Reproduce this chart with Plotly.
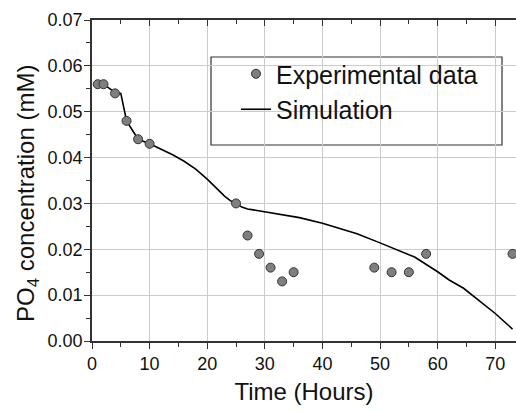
import plotly.graph_objects as go

# Experimental data
exp_time = [1, 2, 4, 6, 8, 10, 25, 27, 29, 31, 33, 35, 49, 52, 55, 58, 73]
exp_po4 = [0.056, 0.056, 0.054, 0.048, 0.044, 0.043, 0.030, 0.023, 0.019, 0.016,
           0.013, 0.015, 0.016, 0.015, 0.015, 0.019, 0.019]

# Simulation curve
sim_time = [0.5, 2, 4, 5, 6, 8, 10, 12, 14, 16, 18, 20, 21, 22, 23, 24, 25, 26, 27,
            28, 30, 33, 36, 40, 43, 46, 50, 53, 56, 60, 62, 64.5, 67, 70, 73]
sim_po4 = [0.056, 0.056, 0.0542, 0.054, 0.048, 0.044, 0.043, 0.0418, 0.0406, 0.0392,
           0.0375, 0.0353, 0.034, 0.0328, 0.0316, 0.0306, 0.030, 0.0292, 0.0288,
           0.0286, 0.0282, 0.0276, 0.0269, 0.0257, 0.0246, 0.0234, 0.0214, 0.0199,
           0.0183, 0.0151, 0.0133, 0.0115, 0.009, 0.006, 0.0026]

FONT = "Liberation Sans, Arial, sans-serif"
AX = "#333333"
FW, FH = 516, 412
X0, Y0, W, H = 92, 20, 424, 321

fig = go.Figure()
fig.add_trace(go.Scatter(
    x=sim_time, y=sim_po4, mode="lines", name="Simulation",
    line=dict(color="black", width=1.6), cliponaxis=False))
fig.add_trace(go.Scatter(
    x=exp_time, y=exp_po4, mode="markers", name="Experimental data",
    marker=dict(size=9, color="#7f7f7f", line=dict(color="#333333", width=1)),
    cliponaxis=False))
fig.add_trace(go.Scatter(x=[None], y=[None], xaxis="x2", showlegend=False))

xt = [0, 10, 20, 30, 40, 50, 60, 70]
xm = [5, 15, 25, 35, 45, 55, 65]

fig.update_layout(
    width=FW, height=FH,
    margin=dict(l=X0, r=FW - X0 - W, t=Y0, b=FH - Y0 - H, autoexpand=False),
    paper_bgcolor="white", plot_bgcolor="white",
    font=dict(family=FONT, size=18, color="#111111"),
    showlegend=True,
    legend=dict(x=(236 - X0) / W, y=(Y0 + H - 51) / H, xanchor="left",
                yanchor="top", bgcolor="rgba(0,0,0,0)", borderwidth=0,
                font=dict(size=25, family=FONT, color="#111111"),
                traceorder="reversed", itemwidth=30, tracegroupgap=0),
    xaxis=dict(range=[0, 73.6], tickvals=xt, automargin=False,
               showgrid=True, gridcolor="#cccccc", gridwidth=1,
               showline=True, linecolor=AX, linewidth=1.5,
               ticks="outside", ticklen=6, tickwidth=1.2, tickcolor=AX,
               minor=dict(tickvals=xm, ticks="outside",
                          ticklen=4, tickcolor=AX, showgrid=False),
               zeroline=False,
               title=dict(text="Time (Hours)", font=dict(size=24, family=FONT),
                          standoff=10)),
    xaxis2=dict(overlaying="x", side="top", range=[0, 73.6], automargin=False,
                tickvals=xt, showticklabels=False,
                showline=True, linecolor=AX, linewidth=1.5,
                ticks="inside", ticklen=6, tickwidth=1.2, tickcolor=AX,
                minor=dict(tickvals=xm, ticks="inside", ticklen=4, tickcolor=AX),
                showgrid=False, zeroline=False),
    yaxis=dict(range=[0, 0.07], tickvals=[0, 0.01, 0.02, 0.03, 0.04, 0.05, 0.06, 0.07],
               tickformat=".2f", automargin=False, ticklabelstandoff=-2,
               showgrid=True, gridcolor="#cccccc", gridwidth=1,
               showline=True, linecolor=AX, linewidth=1.5,
               ticks="outside", ticklen=6, tickwidth=1.2, tickcolor=AX,
               minor=dict(tickvals=[0.005, 0.015, 0.025, 0.035, 0.045, 0.055, 0.065],
                          ticks="outside", ticklen=4, tickcolor=AX, showgrid=False),
               zeroline=False),
)

# Y axis title placed as annotation
fig.add_annotation(text="PO<sub>4</sub> concentration (mM)", textangle=-90,
                   xref="paper", yref="paper", showarrow=False,
                   x=(27 - X0) / W, y=(Y0 + H - 194) / H,
                   xanchor="center", yanchor="middle",
                   font=dict(size=24, family=FONT, color="#111111"))

# Legend frame
fig.add_shape(type="rect", xref="paper", yref="paper",
              x0=(211 - X0) / W, x1=(502 - X0) / W,
              y0=(Y0 + H - 145) / H, y1=(Y0 + H - 57) / H,
              line=dict(color="#333333", width=1.2), fillcolor="white", layer="below")

fig.write_html("out.html",
               config={"displayModeBar": False},
               post_script="document.body.style.margin='0';"
                           "document.body.style.overflow='hidden';")
